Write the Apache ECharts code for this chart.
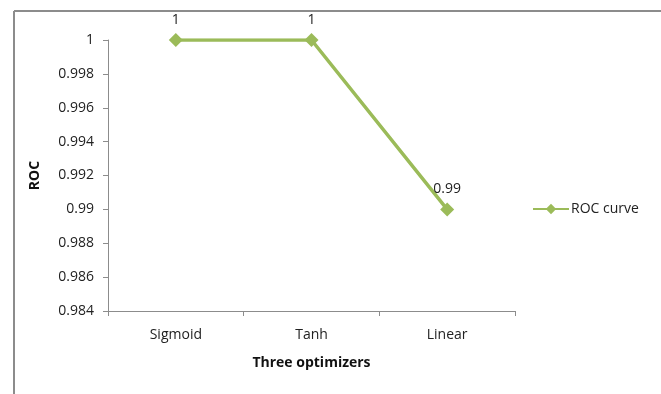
<!DOCTYPE html>
<html>
<head>
<meta charset="utf-8">
<script src="https://cdn.jsdelivr.net/npm/echarts@6/dist/echarts.min.js"></script>
<style>
	html, body { margin: 0; padding: 0; background: #fff; }
	#chart { width: 661px; height: 394px; }
</style>
</head>
<body>
<div id="chart"></div>
<script>
// 数据
var categories = ['Sigmoid', 'Tanh', 'Linear']
var rocValues = [1, 1, 0.99]
var seriesName = 'ROC curve'

var font = '"Open Sans", "Noto Sans", sans-serif'
var green = '#9BBB59'

var myChart = echarts.init(document.getElementById('chart'))
myChart.setOption({
	animation: false,
	textStyle: { fontFamily: font },
	grid: { left: 108, right: 146, top: 40, bottom: 83 },
	// 外框
	graphic: [
		{ type: 'line', shape: { x1: 14, y1: 11, x2: 661, y2: 11 }, style: { stroke: '#8c8c8c', lineWidth: 2 } },
		{ type: 'line', shape: { x1: 14, y1: 11, x2: 14, y2: 394 }, style: { stroke: '#8c8c8c', lineWidth: 2 } }
	],
	legend: {
		orient: 'vertical',
		left: 527,
		top: 197,
		itemWidth: 36,
		itemHeight: 13,
		itemGap: 4,
		textStyle: { fontFamily: font, fontSize: 14, color: '#222', padding: [0, 0, 0, -3] },
		data: [seriesName]
	},
	xAxis: {
		type: 'category',
		data: categories,
		boundaryGap: true,
		name: 'Three optimizers',
		nameLocation: 'middle',
		nameGap: 45,
		nameTextStyle: { fontFamily: font, fontSize: 14, fontWeight: 'bold', color: '#111' },
		axisLine: { lineStyle: { color: '#8c8c8c', width: 1 } },
		axisTick: { show: true, alignWithLabel: false, length: 5, lineStyle: { color: '#8c8c8c' } },
		axisLabel: { fontFamily: font, fontSize: 14, color: '#222', margin: 17 },
		splitLine: { show: false }
	},
	yAxis: {
		type: 'value',
		min: 0.984,
		max: 1,
		interval: 0.002,
		name: 'ROC',
		nameLocation: 'middle',
		nameGap: 66,
		nameRotate: 90,
		nameTextStyle: { fontFamily: font, fontSize: 14, fontWeight: 'bold', color: '#111' },
		axisLine: { show: true, lineStyle: { color: '#8c8c8c', width: 1 } },
		axisTick: { show: true, length: 5, lineStyle: { color: '#8c8c8c' } },
		axisLabel: {
			fontFamily: font, fontSize: 14, color: '#222', margin: 14,
			formatter: function (v) { return String(parseFloat(v.toFixed(3))) }
		},
		splitLine: { show: false }
	},
	series: [
		{
			name: seriesName,
			type: 'line',
			data: rocValues,
			symbol: 'diamond',
			symbolSize: 14,
			itemStyle: { color: green },
			lineStyle: { color: green, width: 3.5 },
			label: {
				show: true,
				position: 'top',
				distance: 6,
				fontFamily: font,
				fontSize: 14,
				color: '#222',
				formatter: function (p) { return String(p.value) }
			}
		}
	]
})
</script>
</body>
</html>
